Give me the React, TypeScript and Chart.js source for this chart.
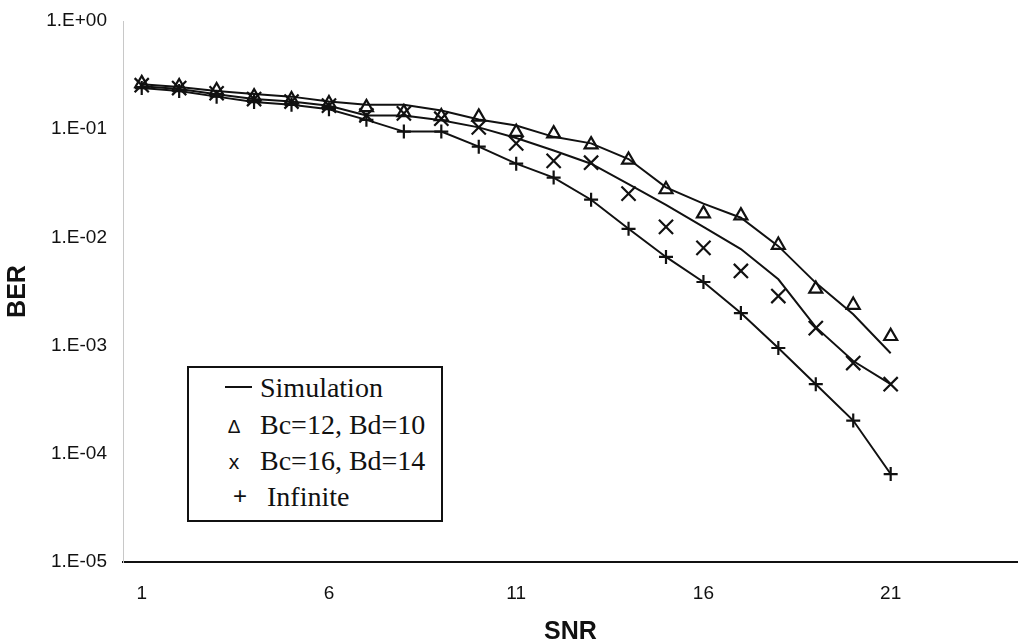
import React, { useEffect, useRef } from "react";
import { Chart, registerables } from "chart.js";

Chart.register(...registerables);

// SNR categories
const snr = [1, 2, 3, 4, 5, 6, 7, 8, 9, 10, 11, 12, 13, 14, 15, 16, 17, 18, 19, 20, 21];

// Marker series
const bc12Bd10 = [0.265, 0.248, 0.228, 0.2, 0.188, 0.173, 0.159, 0.143, 0.131, 0.13, 0.094, 0.091, 0.072, 0.052, 0.0277, 0.0166, 0.0159, 0.0085, 0.00334, 0.00237, 0.00122];
const bc16Bd14 = [0.255, 0.24, 0.215, 0.19, 0.18, 0.165, 0.134, 0.14, 0.125, 0.104, 0.074, 0.051, 0.049, 0.0254, 0.0125, 0.008, 0.0049, 0.00287, 0.00145, 0.00069, 0.00044];
const infinite = [0.24, 0.225, 0.2, 0.178, 0.168, 0.153, 0.122, 0.095, 0.095, 0.069, 0.048, 0.0357, 0.0223, 0.012, 0.0066, 0.00387, 0.002, 0.00095, 0.00044, 0.000203, 0.000065];

// Simulation lines
const simBc12 = [0.26, 0.245, 0.225, 0.212, 0.2, 0.18, 0.168, 0.168, 0.149, 0.123, 0.108, 0.085, 0.074, 0.053, 0.029, 0.0205, 0.0152, 0.0083, 0.0038, 0.00195, 0.00085];
const simBc16 = [0.25, 0.235, 0.21, 0.19, 0.18, 0.165, 0.134, 0.134, 0.121, 0.104, 0.083, 0.0636, 0.048, 0.031, 0.02, 0.0125, 0.0078, 0.0041, 0.00148, 0.00072, 0.00044];
const simInfinite = [0.24, 0.225, 0.2, 0.178, 0.168, 0.153, 0.122, 0.095, 0.095, 0.069, 0.048, 0.0357, 0.0223, 0.012, 0.0066, 0.00387, 0.002, 0.00095, 0.00044, 0.000203, 0.000065];

// Axis ticks
const xTickValues = [1, 6, 11, 16, 21];
const yTickValues = [1e-5, 1e-4, 1e-3, 1e-2, 1e-1, 1];
const yTickLabels = ["1.E-05", "1.E-04", "1.E-03", "1.E-02", "1.E-01", "1.E+00"];

const INK = "#111";
const SANS = "'Liberation Sans', Arial, sans-serif";
const SERIF = "'Liberation Serif', 'Times New Roman', serif";

export default function App() {
  const ref = useRef<HTMLCanvasElement>(null);

  useEffect(() => {
    document.body.style.margin = "0";
    const pts = (ys: number[]) => ys.map((y, i) => ({ x: snr[i], y }));
    const lineDs = (label: string, ys: number[]) => ({
      label,
      data: pts(ys),
      borderColor: INK,
      borderWidth: 2,
      pointRadius: 0,
      fill: false,
      tension: 0,
      showLine: true,
    });
    const markDs = (label: string, ys: number[], style: string, r: number) => ({
      label,
      data: pts(ys),
      showLine: false,
      pointStyle: style,
      pointRadius: r,
      pointBorderColor: INK,
      pointBorderWidth: 2.2,
      pointBackgroundColor: "rgba(0,0,0,0)",
      borderColor: INK,
    });

    const chart = new Chart(ref.current!, {
      type: "line",
      data: {
        datasets: [
          lineDs("Simulation Bc=12", simBc12),
          lineDs("Simulation Bc=16", simBc16),
          lineDs("Simulation Infinite", simInfinite),
          markDs("Bc=12, Bd=10", bc12Bd10, "triangle", 7.5),
          markDs("Bc=16, Bd=14", bc16Bd14, "crossRot", 10),
          markDs("Infinite", infinite, "cross", 7),
        ] as any,
      },
      options: {
        responsive: false,
        animation: false,
        layout: { autoPadding: false, padding: { top: 21, left: 0, right: 0, bottom: 0 } },
        plugins: { legend: { display: false }, tooltip: { enabled: false } },
        scales: {
          x: {
            type: "linear",
            min: 0.5,
            max: 24.4,
            afterBuildTicks: (s: any) => {
              s.ticks = xTickValues.map((v) => ({ value: v }));
            },
            afterFit: (s: any) => {
              s.height = 81;
              s.paddingLeft = 0;
              s.paddingRight = 0;
            },
            grid: { display: false, drawTicks: false },
            border: { color: INK, width: 2 },
            ticks: {
              padding: 20,
              color: INK,
              font: { family: SANS, size: 19 },
              callback: (v: any) => String(v),
            },
            title: {
              display: true,
              text: "SNR",
              color: INK,
              font: { family: SANS, size: 25, weight: "bold", lineHeight: 1 },
              padding: { top: 0, bottom: -2 },
            },
          },
          y: {
            type: "logarithmic",
            min: 1e-5,
            max: 1,
            afterBuildTicks: (s: any) => {
              s.ticks = yTickValues.map((v) => ({ value: v }));
            },
            afterFit: (s: any) => {
              s.width = 123;
              s.paddingTop = 0;
              s.paddingBottom = 0;
            },
            grid: { display: false, drawTicks: false },
            border: { color: "#c8c8c8", width: 1 },
            ticks: {
              padding: 16,
              color: INK,
              font: { family: SANS, size: 19 },
              callback: (_v: any, i: number) => yTickLabels[i],
            },
            title: {
              display: true,
              text: "BER",
              color: INK,
              font: { family: SANS, size: 25, weight: "bold", lineHeight: 1 },
              padding: { top: 6, bottom: 0 },
            },
          },
        },
      } as any,
    });
    return () => chart.destroy();
  }, []);

  const sym = (x: number, y: number, size: number, font = SANS): React.CSSProperties => ({
    position: "absolute",
    left: x,
    top: y,
    transform: "translate(-50%, -50%)",
    fontFamily: font,
    fontSize: size,
    lineHeight: 1,
    color: INK,
    whiteSpace: "nowrap",
  });
  const txt = (x: number, y: number): React.CSSProperties => ({
    position: "absolute",
    left: x,
    top: y,
    transform: "translateY(-50%)",
    fontFamily: SERIF,
    fontSize: 28,
    lineHeight: 1,
    color: INK,
    whiteSpace: "nowrap",
  });

  return (
    <div style={{ position: "absolute", left: 0, top: 0, width: 1018, height: 643, background: "#fff" }}>
      <canvas ref={ref} width={1018} height={643} style={{ display: "block" }} />
      <div
        style={{
          position: "absolute",
          left: 187,
          top: 366,
          width: 256,
          height: 156,
          boxSizing: "border-box",
          border: "2px solid #111",
          background: "#fff",
        }}
      />
      <div style={{ position: "absolute", left: 225, top: 386, width: 27, height: 2, background: INK }} />
      <span style={txt(260, 388)}>Simulation</span>
      <span style={sym(234, 426, 19)}>Δ</span>
      <span style={txt(260, 425)}>Bc=12, Bd=10</span>
      <span style={sym(234, 461, 21)}>x</span>
      <span style={txt(260, 461)}>Bc=16, Bd=14</span>
      <span style={sym(240, 496, 24)}>+</span>
      <span style={txt(267, 497)}>Infinite</span>
    </div>
  );
}
